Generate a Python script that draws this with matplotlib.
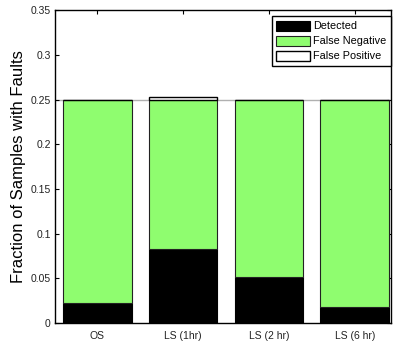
import matplotlib
matplotlib.use("Agg")
import matplotlib.pyplot as plt
import numpy as np

plt.rcParams['font.family'] = ['Liberation Sans', 'DejaVu Sans']

# Data
categories = ["OS", "LS (1hr)", "LS (2 hr)", "LS (6 hr)"]
detected = [0.022, 0.083, 0.052, 0.018]
false_negative = [0.228, 0.167, 0.198, 0.232]
false_positive = [0.0, 0.0025, 0.0, 0.0]
yticks = [0, 0.05, 0.1, 0.15, 0.2, 0.25, 0.3, 0.35]
yticklabels = ["0", "0.05", "0.1", "0.15", "0.2", "0.25", "0.3", "0.35"]

W, H, DPI = 394, 345, 100
fig = plt.figure(figsize=(W / DPI, H / DPI), dpi=DPI)
ax = fig.add_axes([55 / W, 1 - 323 / H, 335.5 / W, 312.7 / H])

x = np.arange(1, len(categories) + 1)
green = "#8ffd6f"
bw = 0.8

ax.axhline(0.25, color="#b0b0b0", lw=1.0, zorder=0.5)

b1 = ax.bar(x, detected, bw, color="black", edgecolor="black", lw=0.8, zorder=2,
            label="Detected")
b2 = ax.bar(x, false_negative, bw, bottom=detected, color=green, edgecolor="#222222",
            lw=0.8, zorder=2, label="False Negative")
bottom2 = np.array(detected) + np.array(false_negative)
b3 = ax.bar(x, false_positive, bw, bottom=bottom2, color="white", edgecolor="black",
            lw=1.0, zorder=3, label="False Positive")

ax.set_xlim(0.507, 4.417)
ax.set_ylim(0, 0.35)
ax.set_xticks(x)
ax.set_xticklabels(categories)
ax.set_yticks(yticks)
ax.set_yticklabels(yticklabels)

ax.tick_params(axis="both", direction="in", length=3, width=0.8, labelsize=7.5,
               labelcolor="#222222", top=True, right=True)
ax.tick_params(axis="x", pad=6)
ax.tick_params(axis="y", pad=3)
for s in ax.spines.values():
    s.set_linewidth(1.0)
    s.set_color("black")

ax.set_ylabel("Fraction of Samples with Faults", fontsize=12, labelpad=3)

leg = ax.legend(handles=[b1, b2, b3], loc="upper right",
                bbox_to_anchor=(390.5 / W, 1 - 16.3 / H), bbox_transform=fig.transFigure,
                fontsize=7.8, frameon=True, fancybox=False, framealpha=1,
                edgecolor="black", handlelength=3.1, handleheight=1.05,
                handletextpad=0.3, labelspacing=0.4, borderpad=0.4, borderaxespad=0)
leg.get_frame().set_linewidth(1.0)
leg.set_zorder(5)

fig.savefig("out.png", dpi=DPI)
